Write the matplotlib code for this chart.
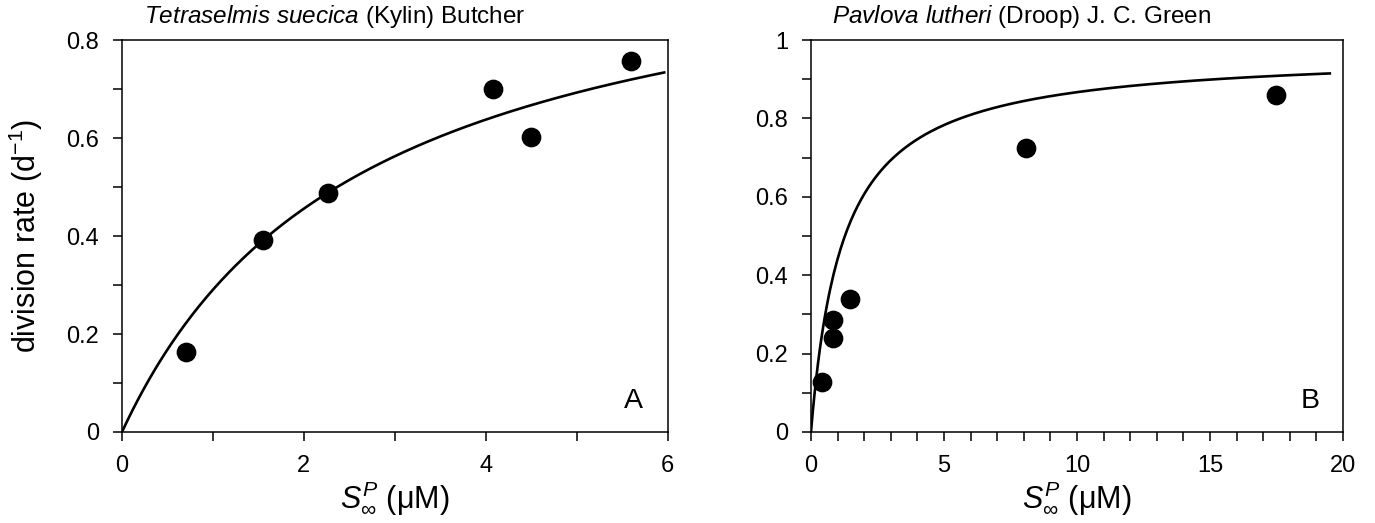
import numpy as np
import matplotlib
matplotlib.use("Agg")
import matplotlib.pyplot as plt
from matplotlib.ticker import MultipleLocator

plt.rcParams['font.family'] = ['Liberation Sans', 'DejaVu Sans']
plt.rcParams['mathtext.fontset'] = 'custom'
plt.rcParams['mathtext.rm'] = 'Liberation Sans'
plt.rcParams['mathtext.it'] = 'Liberation Sans:italic'
plt.rcParams['mathtext.bf'] = 'Liberation Sans:bold'

# Tetraselmis suecica
s_a = [0.70, 1.55, 2.27, 4.08, 4.50, 5.60]
mu_a = [0.163, 0.391, 0.487, 0.701, 0.602, 0.758]
mumax_a, k_a = 1.06, 2.65   # Monod fit
smax_a = 5.96

# Pavlova lutheri
s_b = [0.40, 0.81, 0.81, 1.47, 8.08, 17.48]
mu_b = [0.127, 0.241, 0.285, 0.340, 0.724, 0.860]
mumax_b, k_b = 0.971, 1.20
smax_b = 19.5

fig = plt.figure(figsize=(13.75, 5.23), dpi=100)
ax1 = fig.add_axes([0.0887, 0.174, 0.397, 0.7495])
ax2 = fig.add_axes([0.5898, 0.174, 0.387, 0.7495])

panels = [
    (ax1, s_a, mu_a, mumax_a, k_a, smax_a, 6, 0.8, 2, 1,
     r"$\it{Tetraselmis\ suecica}$ (Kylin) Butcher", "A"),
    (ax2, s_b, mu_b, mumax_b, k_b, smax_b, 20, 1.0, 5, 1,
     r"$\it{Pavlova\ lutheri}$ (Droop) J. C. Green", "B"),
]

for ax, s, mu, mumax, k, smax, xmax, ymax, xmaj, xmin, title, letter in panels:
    xs = np.linspace(0, smax, 300)
    ax.plot(xs, mumax * xs / (k + xs), color='black', lw=1.9, zorder=2)
    ax.plot(s, mu, 'o', color='black', ms=13.2, zorder=3, clip_on=False)
    ax.set_xlim(0, xmax)
    ax.set_ylim(0, ymax)
    ax.xaxis.set_major_locator(MultipleLocator(xmaj))
    ax.xaxis.set_minor_locator(MultipleLocator(xmin))
    ax.yaxis.set_major_locator(MultipleLocator(0.2))
    ax.yaxis.set_minor_locator(MultipleLocator(0.1))
    ax.yaxis.set_major_formatter(plt.FuncFormatter(lambda v, p: '%g' % round(v, 2)))
    ax.tick_params(which='both', direction='out', length=6.5, width=1.1,
                   top=False, right=False, labelsize=17, pad=10)
    for sp in ax.spines.values():
        sp.set_linewidth(1.1)
    ax.set_xlabel(r"$S^P_\infty$ (μM)", fontsize=22, labelpad=2)
    ax.text(0.04, 1.043, title, transform=ax.transAxes, fontsize=17.5,
            ha='left', va='baseline')
    ax.text(0.955, 0.08, letter, transform=ax.transAxes, fontsize=20.5,
            ha='right', va='center')

ax1.set_ylabel("division rate (d$^{-1}$)", fontsize=22, labelpad=15)

fig.savefig("out.png", dpi=100)
